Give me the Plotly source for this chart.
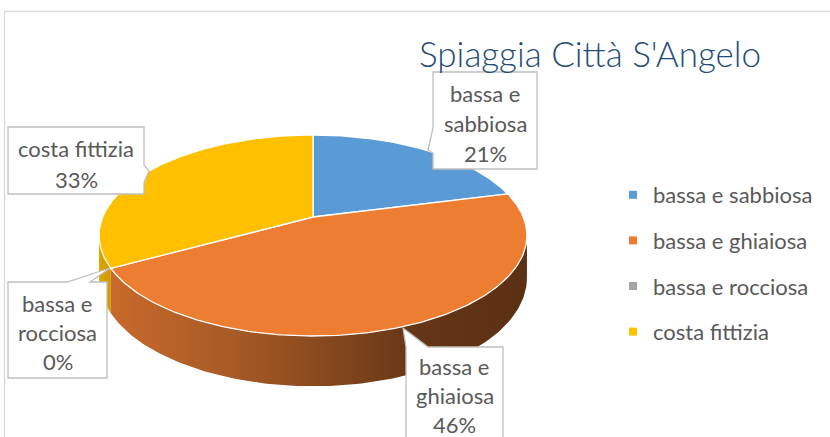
import numpy as np
import plotly.graph_objects as go

# ---------------- data ----------------
categories = ["bassa e sabbiosa", "bassa e ghiaiosa", "bassa e rocciosa", "costa fittizia"]
values = [21, 46, 0, 33]
colors = ["#5B9BD5", "#ED7D31", "#A5A5A5", "#FFC000"]
side_scales = [
    [[0, "#3F75A8"], [1, "#2B5580"]],
    [[0, "#C8692C"], [0.3, "#A65A25"], [0.55, "#82451C"], [0.75, "#643516"], [1, "#5C3014"]],
    [[0, "#8A8A8A"], [1, "#6E6E6E"]],
    [[0, "#DDA500"], [1, "#CF9900"]],
]
title_text = "Spiaggia Città S'Angelo"

# ---------------- geometry (screen-pixel space) ----------------
W, H = 830, 437
CX, CY = 313, 217      # pie apex
A, B = 210.3, 97.1     # radii of projected top face
P = 0.184              # perspective factor
DEPTH = 41.0           # thickness

FONT = "Lato"
TXT = "#595959"


def rim(phi, drop=0.0):
    u, v = np.sin(phi), np.cos(phi)
    w = 1 + P * v
    return CX + A * u / w, CY + (-B * v + drop) / w


total = float(sum(values))
fracs = np.array(values) / total
ends = np.cumsum(fracs) * 2 * np.pi
starts = ends - fracs * 2 * np.pi

phi_r = np.arccos(-P)
phi_l = 2 * np.pi - phi_r

fig = go.Figure()

# side walls (front only)
for i, (s, e) in enumerate(zip(starts, ends)):
    a, b = max(s, phi_r), min(e, phi_l)
    if b <= a:
        continue
    ph = np.linspace(a, b, 120)
    xt, yt = rim(ph)
    xb, yb = rim(ph[::-1], DEPTH)
    xs = np.concatenate([xt, xb, xt[:1]])
    ys = np.concatenate([yt, yb, yt[:1]])
    fig.add_trace(go.Scatter(
        x=xs, y=ys, mode="lines", fill="toself",
        line=dict(width=0, color=colors[i]),
        fillgradient=dict(type="horizontal", colorscale=side_scales[i]),
        hoverinfo="skip", showlegend=False))

# top faces
for i, (s, e) in enumerate(zip(starts, ends)):
    if e - s <= 0:
        continue
    ph = np.linspace(s, e, 200)
    xr, yr = rim(ph)
    xs = np.concatenate([[CX], xr, [CX]])
    ys = np.concatenate([[CY], yr, [CY]])
    fig.add_trace(go.Scatter(
        x=xs, y=ys, mode="lines", fill="toself", fillcolor=colors[i],
        line=dict(width=1.3, color="white"),
        name=categories[i], hoverinfo="name", showlegend=False))

# legend entries
for i, c in enumerate(categories):
    fig.add_trace(go.Scatter(
        x=[None], y=[None], mode="markers", name=c, legendgroup=c,
        marker=dict(symbol="square", size=8, color=colors[i])))

# ---------------- data labels ----------------
pcts = [int(round(v / total * 100)) for v in values]
label_lines = []
for c, p in zip(categories, pcts):
    if c.startswith("bassa e "):
        label_lines.append(["bassa e", c[len("bassa e "):], f"{p}%"])
    else:
        label_lines.append([c, f"{p}%"])

# callout boxes: (path, center x, first line y, line step)
boxes = [
    ("M433,72 L537,72 L537,169 L433,169 L433,153 L428,150 L433,128 Z", 485, 93, 30),
    ("M406,347 L403,328 L428,347 L503,347 L503,445 L406,445 Z", 454.5, 366, 29),
    ("M8,282 L67,282 L110,268 L90,282 L107,282 L107,378 L8,378 Z", 57.5, 303, 29),
    ("M8,127 L144,127 L144,165 L149,171 L144,183 L144,194 L8,194 Z", 76, 148, 31),
]
shapes = []
annotations = []
for i, (path, bx, by, step) in enumerate(boxes):
    shapes.append(dict(type="path", path=path, xref="x", yref="y",
                       line=dict(color="#BFBFBF", width=1.3),
                       fillcolor="white", layer="above"))
    for j, t in enumerate(label_lines[i]):
        annotations.append(dict(x=bx, y=by + j * step, xref="x", yref="y", text=t,
                                showarrow=False, xanchor="center", yanchor="middle",
                                font=dict(family=FONT, size=22, color=TXT)))

# chart border (top + left)
shapes.append(dict(type="line", xref="x", yref="y", x0=4.5, y0=11.5, x1=840, y1=11.5,
                   line=dict(color="#D9D9D9", width=1.3), layer="below"))
shapes.append(dict(type="line", xref="x", yref="y", x0=4.5, y0=11.5, x1=4.5, y1=450,
                   line=dict(color="#D9D9D9", width=1.3), layer="below"))

annotations.append(dict(x=417, y=53, xref="x", yref="y", text=title_text, showarrow=False,
                        xanchor="left", yanchor="middle",
                        font=dict(family=FONT, size=35, color="#1F4E79", weight=300)))

fig.update_layout(
    width=W, height=H,
    margin=dict(l=0, r=0, t=0, b=0, autoexpand=False),
    paper_bgcolor="white", plot_bgcolor="white",
    xaxis=dict(range=[0, W], visible=False, fixedrange=True),
    yaxis=dict(range=[H, 0], visible=False, fixedrange=True),
    shapes=shapes, annotations=annotations,
    showlegend=True,
    legend=dict(x=613 / W, y=1 - 174 / H, xanchor="left", yanchor="top",
                font=dict(family=FONT, size=22, color=TXT),
                tracegroupgap=14, bgcolor="rgba(0,0,0,0)", traceorder="grouped"),
)

fig.write_html("out.html", config={"displayModeBar": False},
               post_script="document.body.style.margin='0px';")
